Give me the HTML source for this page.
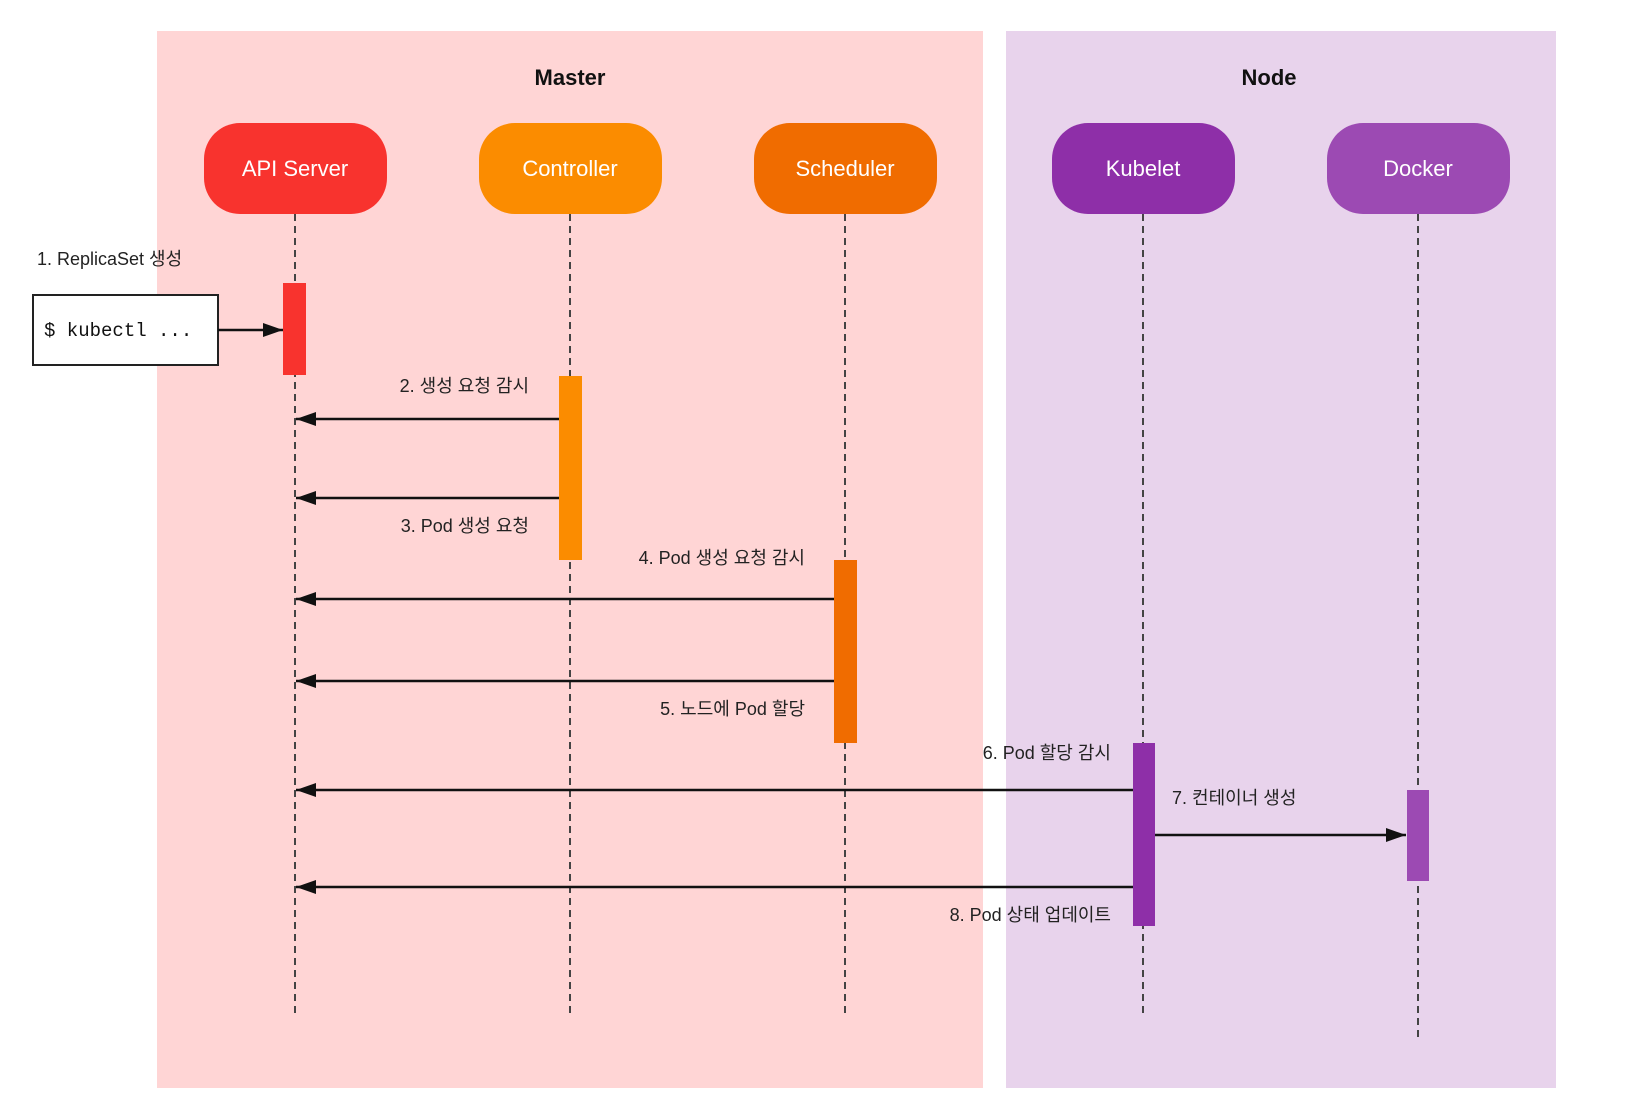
<!DOCTYPE html>
<html><head><meta charset="utf-8"><style>
body{margin:0;background:#fff;}
svg text{font-family:"Liberation Sans","Noto Sans CJK KR",sans-serif;}
</style></head><body>
<svg width="1640" height="1102" viewBox="0 0 1640 1102" xmlns="http://www.w3.org/2000/svg">
<defs><marker id="ah" markerWidth="10" markerHeight="10" refX="9" refY="5" orient="auto" markerUnits="userSpaceOnUse"><path d="M0,0 L10,5 L0,10 z" fill="#111"/></marker>
<marker id="ah2" viewBox="0 0 20 14" markerWidth="20" markerHeight="14" refX="20" refY="7" orient="auto" markerUnits="userSpaceOnUse"><path d="M0,0 L20,7 L0,14 z" fill="#111"/></marker></defs>
<rect x="0" y="0" width="1640" height="1102" fill="#fff"/>
<rect x="157" y="31" width="826" height="1057" fill="#ffd5d5"/>
<rect x="1006" y="31" width="550" height="1057" fill="#e8d3ec"/>
<text x="570" y="85" font-size="22" font-weight="bold" text-anchor="middle" fill="#111">Master</text>
<text x="1269" y="85" font-size="22" font-weight="bold" text-anchor="middle" fill="#111">Node</text>
<g stroke="#444" stroke-width="2" stroke-dasharray="7,5">
<line x1="295" y1="214" x2="295" y2="1017"/>
<line x1="570" y1="214" x2="570" y2="1017"/>
<line x1="845" y1="214" x2="845" y2="1017"/>
<line x1="1143" y1="214" x2="1143" y2="1017"/>
<line x1="1418" y1="214" x2="1418" y2="1041"/>
</g>
<g font-size="22" fill="#fff" text-anchor="middle">
<rect x="204" y="123" width="183" height="91" rx="36" fill="#f8332e"/><text x="295" y="176">API Server</text>
<rect x="479" y="123" width="183" height="91" rx="36" fill="#fb8c00"/><text x="570" y="176">Controller</text>
<rect x="754" y="123" width="183" height="91" rx="36" fill="#f06c00"/><text x="845" y="176">Scheduler</text>
<rect x="1052" y="123" width="183" height="91" rx="36" fill="#8e2fa8"/><text x="1143" y="176">Kubelet</text>
<rect x="1327" y="123" width="183" height="91" rx="36" fill="#9c4ab3"/><text x="1418" y="176">Docker</text>
</g>
<rect x="283" y="283" width="23" height="92" fill="#f8332e"/>
<rect x="559" y="376" width="23" height="184" fill="#fb8c00"/>
<rect x="834" y="560" width="23" height="183" fill="#f06c00"/>
<rect x="1133" y="743" width="22" height="183" fill="#8e2fa8"/>
<rect x="1407" y="790" width="22" height="91" fill="#9c4ab3"/>
<rect x="33" y="295" width="185" height="70" fill="#fff" stroke="#222" stroke-width="2"/>
<text x="44" y="336" font-family="Liberation Mono,monospace" font-size="19" fill="#111" style="font-family:'Liberation Mono',monospace">$ kubectl ...</text>
<g stroke="#111" stroke-width="2.5" fill="none">
<line x1="218" y1="330" x2="283" y2="330" marker-end="url(#ah2)"/>
<line x1="559" y1="419" x2="296" y2="419" marker-end="url(#ah2)"/>
<line x1="559" y1="498" x2="296" y2="498" marker-end="url(#ah2)"/>
<line x1="834" y1="599" x2="296" y2="599" marker-end="url(#ah2)"/>
<line x1="834" y1="681" x2="296" y2="681" marker-end="url(#ah2)"/>
<line x1="1133" y1="790" x2="296" y2="790" marker-end="url(#ah2)"/>
<line x1="1155" y1="835" x2="1406" y2="835" marker-end="url(#ah2)"/>
<line x1="1133" y1="887" x2="296" y2="887" marker-end="url(#ah2)"/>
</g>
<g font-size="18" fill="#222">
<text x="37" y="265">1. ReplicaSet 생성</text>
<text x="529" y="392" text-anchor="end">2. 생성 요청 감시</text>
<text x="529" y="532" text-anchor="end">3. Pod 생성 요청</text>
<text x="805" y="564" text-anchor="end">4. Pod 생성 요청 감시</text>
<text x="805" y="715" text-anchor="end">5. 노드에 Pod 할당</text>
<text x="1111" y="759" text-anchor="end">6. Pod 할당 감시</text>
<text x="1172" y="804">7. 컨테이너 생성</text>
<text x="1111" y="921" text-anchor="end">8. Pod 상태 업데이트</text>
</g>
</svg>
</body></html>
